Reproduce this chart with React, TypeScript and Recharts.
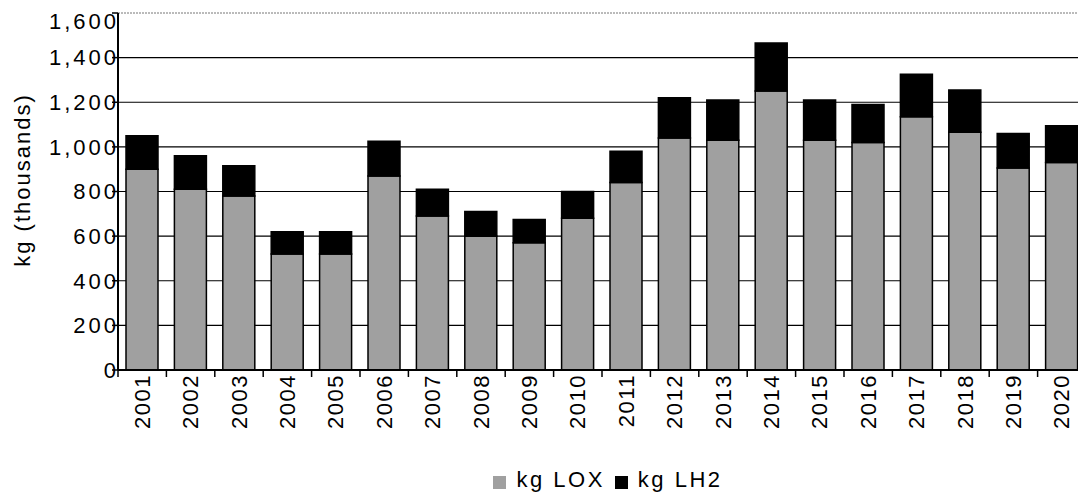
import React from 'react';
import { BarChart, Bar, XAxis, YAxis, CartesianGrid, Legend } from 'recharts';

const years = ['2001', '2002', '2003', '2004', '2005', '2006', '2007', '2008', '2009', '2010',
  '2011', '2012', '2013', '2014', '2015', '2016', '2017', '2018', '2019', '2020'];
const loxKg = [900, 810, 780, 520, 520, 870, 690, 600, 570, 680, 840, 1040, 1030, 1250, 1030, 1020, 1135, 1065, 905, 930];
const lh2Kg = [150, 150, 135, 100, 100, 155, 120, 110, 105, 120, 140, 180, 180, 215, 180, 170, 190, 190, 155, 165];
const yTicks = [0, 200, 400, 600, 800, 1000, 1200, 1400, 1600];

const data = years.map((y, i) => ({ year: y, lox: loxKg[i], lh2: lh2Kg[i] }));

const font = '"Liberation Sans", Arial, sans-serif';
const seriesOrder: Record<string, number> = { lox: 0, lh2: 1 };

const gridLine = (p: any) => {
  const top = p.y1 <= 6;
  return (
    <line
      key={'g' + p.index}
      x1={p.x1}
      x2={p.x2}
      y1={p.y1}
      y2={p.y2}
      stroke={top ? '#777' : '#000'}
      strokeWidth={top ? 1 : 1.2}
      strokeDasharray={top ? '2 1' : undefined}
    />
  );
};

// year label turned on its side, plus a small mark on the left edge of the band
const YearTick = (p: any) => {
  const half = p.payload?.offset || 24.1;
  const bx = p.x - half;
  const ty = p.y + 4;
  return (
    <g>
      <line x1={bx} x2={bx} y1={p.y} y2={p.y + 7} stroke="#000" strokeWidth={1.5} />
      <text
        x={p.x}
        y={ty}
        transform={`rotate(-90, ${p.x}, ${ty})`}
        textAnchor="end"
        dominantBaseline="central"
        style={{ fontSize: 22, fill: '#000', fontFamily: font, letterSpacing: 1.5 }}
      >
        {p.payload.value}
      </text>
    </g>
  );
};

const App = () => {
  return (
    <div style={{ width: 1078, height: 492, fontFamily: font }}>
      <BarChart
        width={1078}
        height={492}
        data={data}
        barSize={32}
        margin={{ top: 5, right: 0, left: 0, bottom: 24 }}
      >
        <CartesianGrid vertical={false} horizontal={gridLine} />
        <XAxis
          dataKey="year"
          interval={0}
          height={80}
          tickLine={false}
          tickSize={0}
          tickMargin={0}
          axisLine={{ stroke: '#000', strokeWidth: 2 }}
          tick={<YearTick />}
        />
        <YAxis
          width={110}
          domain={[0, 1600]}
          ticks={yTicks}
          tickFormatter={(v) => v.toLocaleString('en-US')}
          tickLine={{ stroke: '#000', strokeWidth: 1.5 }}
          tickSize={6}
          tickMargin={-7}
          axisLine={{ stroke: '#000', strokeWidth: 2 }}
          tick={{ fontSize: 22, fill: '#000', fontFamily: font, letterSpacing: 3 }}
          label={{
            content: () => (
              <text
                x={14}
                y={172}
                transform="rotate(-90, 14, 172)"
                textAnchor="middle"
                dominantBaseline="central"
                style={{ fontSize: 22, fill: '#000', fontFamily: font, letterSpacing: 2 }}
              >
                kg (thousands)
              </text>
            ),
          }}
        />
        <Legend
          iconType="square"
          iconSize={13}
          wrapperStyle={{ top: 459, left: 121, width: 968 }}
          itemSorter={(item: any) => seriesOrder[item.dataKey] ?? 0}
          formatter={(v) => <span style={{ color: '#000', fontSize: 22, fontFamily: font, letterSpacing: 2.5, paddingLeft: 6 }}>{v}</span>}
        />
        <Bar dataKey="lox" name="kg LOX" stackId="a" fill="#a0a0a0" stroke="#000" strokeWidth={1.5} isAnimationActive={false} />
        <Bar dataKey="lh2" name="kg LH2" stackId="a" fill="#000" stroke="#000" strokeWidth={1.5} isAnimationActive={false} />
      </BarChart>
    </div>
  );
};

export default App;
